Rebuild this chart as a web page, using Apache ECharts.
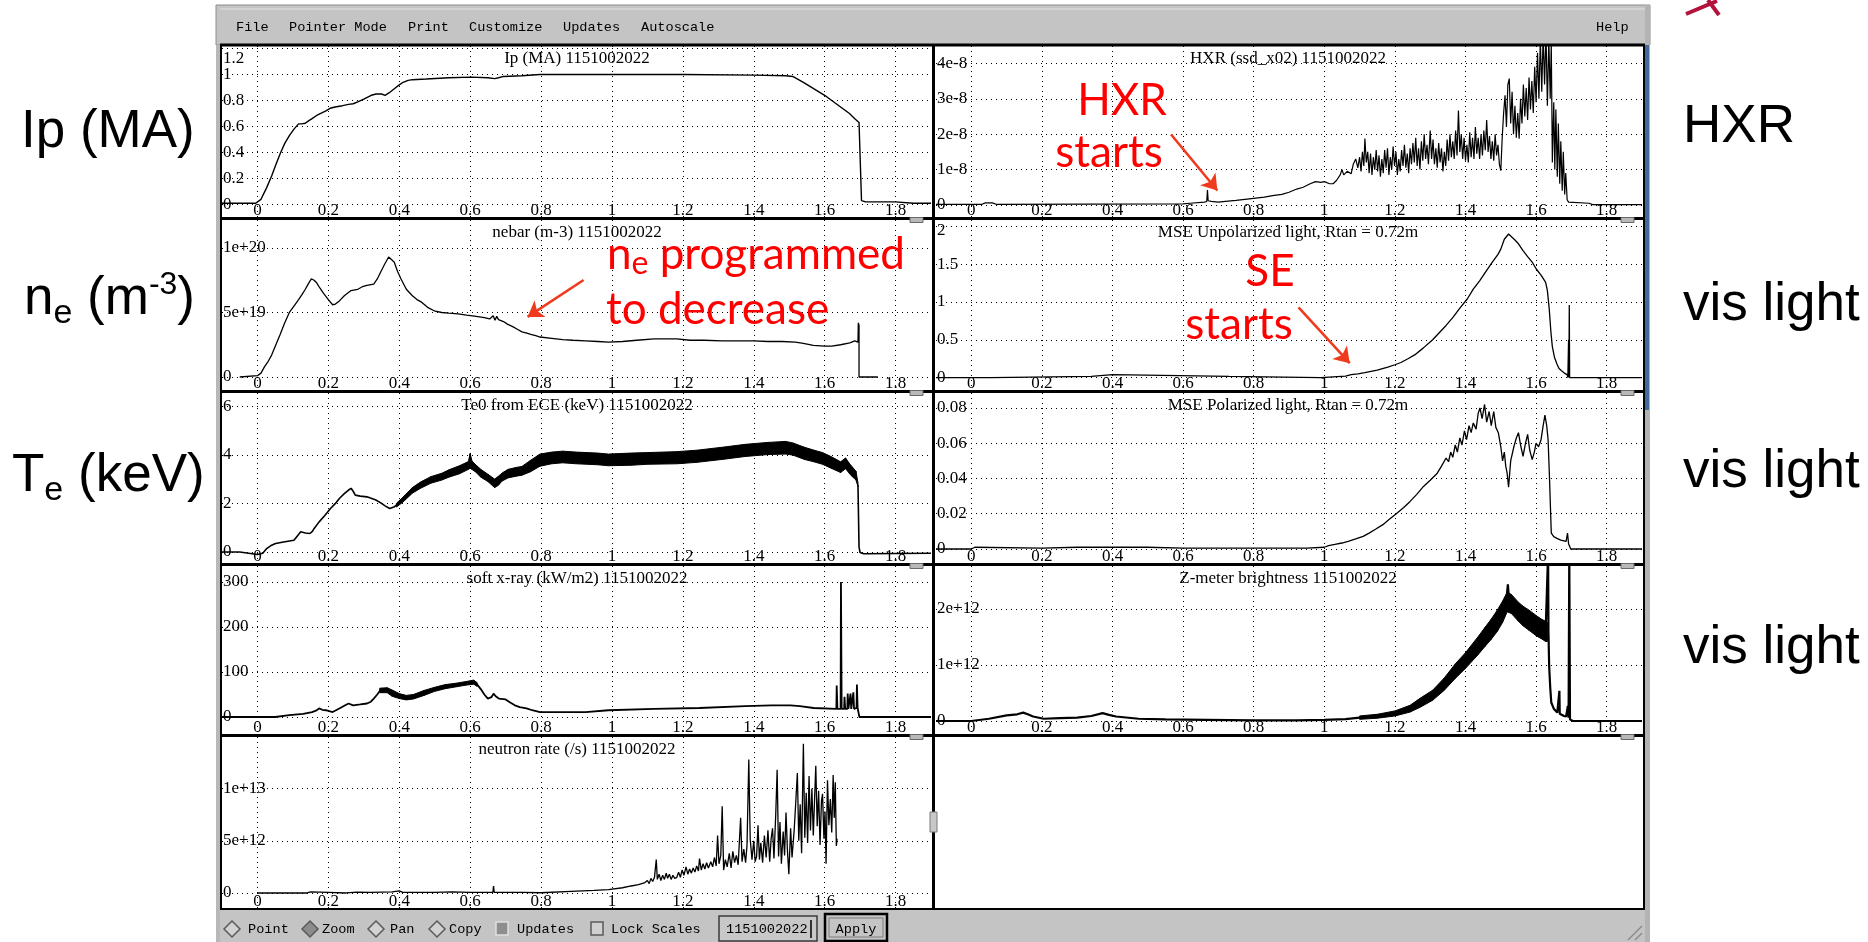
<!DOCTYPE html>
<html lang="en">
<head>
<meta charset="utf-8">
<title>Shot 1151002022</title>
<script src="https://cdn.jsdelivr.net/npm/echarts@6.0.0/dist/echarts.min.js"></script>
<style>
  html, body { margin: 0; padding: 0; background: #fff; overflow: hidden; }
  #chart { width: 1868px; height: 942px; }
</style>
</head>
<body>
<div id="chart"></div>
<script>
// traces, shot 1151002022, time in s

// plasma current, MA
const ipData = [[-0.1,0.01],[-0.005,0.01],[0,0],[0.01,0.04],[0.026,0.13],[0.04,0.22],[0.051,0.3],[0.064,0.39],[0.077,0.47],[0.09,0.53],[0.103,0.58],[0.116,0.62],[0.125,0.62],[0.135,0.625],[0.145,0.645],[0.154,0.66],[0.17,0.69],[0.193,0.72],[0.205,0.74],[0.219,0.75],[0.24,0.76],[0.257,0.77],[0.27,0.775],[0.283,0.79],[0.3,0.81],[0.321,0.84],[0.335,0.85],[0.35,0.85],[0.36,0.84],[0.372,0.86],[0.386,0.89],[0.4,0.92],[0.411,0.94],[0.425,0.955],[0.437,0.96],[0.476,0.965],[0.54,0.975],[0.604,0.98],[0.65,0.975],[0.669,0.968],[0.68,0.975],[0.694,0.985],[0.746,0.99],[0.797,1.0],[1.0,1.0],[1.2,1.0],[1.4,0.995],[1.49,0.99],[1.51,0.985],[1.54,0.94],[1.57,0.89],[1.6,0.84],[1.62,0.8],[1.645,0.75],[1.67,0.7],[1.685,0.66],[1.697,0.63],[1.702,0.645],[1.704,0.03],[1.716,0.02],[1.8,0.02],[1.85,0.01],[1.9,0.01]];

// hard x-ray, units of 1e-8
const hxrData = [[-0.1,0.02],[0.03,0.02],[0.04,0.06],[0.06,0.06],[0.07,0.02],[0.6,0.03],[0.62,0.05],[0.66,0.08],[0.667,0.1],[0.669,0.42],[0.671,0.12],[0.68,0.1],[0.7,0.08],[0.72,0.1],[0.75,0.13],[0.794,0.18],[0.83,0.22],[0.858,0.27],[0.88,0.3],[0.9,0.36],[0.922,0.45],[0.94,0.5],[0.96,0.6],[0.975,0.66],[0.99,0.64],[1.0,0.66],[1.015,0.6],[1.025,0.6],[1.035,0.7],[1.045,0.85],[1.05,1.0],[1.055,0.85],[1.065,0.95],[1.076,0.88],[1.082,1.15],[1.089,1.3],[1.095,1.05],
  [1.1,1.35],[1.104,0.95],[1.108,1.5],[1.112,1.1],[1.115,1.88],[1.119,1.2],[1.123,1.5],[1.127,0.9],[1.131,1.45],[1.135,0.85],[1.139,1.35],[1.143,1.0],[1.147,1.55],[1.151,0.95],[1.155,1.4],[1.159,0.8],[1.163,1.3],[1.167,0.9],[1.171,1.55],[1.175,1.05],[1.179,1.6],[1.183,0.85],[1.187,1.35],[1.191,1.0],[1.195,1.65],[1.199,1.1],[1.203,1.5],[1.207,0.85],[1.211,1.3],[1.215,0.95],[1.219,1.55],[1.223,1.1],[1.227,1.7],[1.231,1.05],[1.235,1.45],[1.239,0.9],[1.243,1.6],[1.247,1.15],[1.251,1.75],[1.255,1.2],[1.259,1.9],[1.263,1.1],[1.267,1.6],[1.271,1.0],[1.275,1.8],[1.279,1.25],[1.283,2.0],[1.287,1.3],[1.291,1.7],[1.295,1.15],[1.3,2.1],[1.304,1.3],[1.308,1.85],[1.312,1.15],[1.316,1.6],[1.32,1.05],[1.324,1.75],[1.328,1.2],[1.332,1.6],[1.336,0.95],[1.34,1.5],[1.344,1.1],[1.348,1.85],[1.352,1.25],[1.356,2.0],[1.36,1.35],[1.364,1.8],[1.368,1.3],[1.372,2.1],[1.376,1.4],[1.38,2.67],[1.384,1.5],[1.388,2.0],[1.392,1.3],[1.396,1.9],[1.4,1.25],[1.404,1.7],[1.408,1.2],[1.412,2.05],[1.416,1.35],[1.42,1.9],[1.424,1.3],[1.428,2.2],[1.432,1.45],[1.436,1.9],[1.44,1.3],[1.444,2.0],[1.448,1.4],[1.452,2.1],[1.456,1.55],[1.46,2.4],[1.464,1.5],[1.468,1.95],[1.472,1.3],[1.476,1.8],[1.48,1.25],[1.484,2.0],[1.488,1.4],[1.492,1.7],[1.496,1.15],[1.5,0.97],[1.504,1.9],[1.508,2.6],[1.512,3.1],[1.516,2.2],[1.52,3.4],[1.524,3.57],[1.528,2.3],[1.532,3.2],[1.536,2.0],[1.54,2.8],[1.544,1.9],[1.548,2.6],[1.552,1.87],[1.556,3.0],[1.56,2.3],[1.564,3.4],[1.568,2.5],[1.572,3.3],[1.576,2.4],[1.58,3.6],[1.584,2.7],[1.588,3.5],[1.592,2.6],[1.596,3.9],[1.6,2.9],[1.604,4.3],[1.608,3.0],[1.612,4.7],[1.616,3.2],[1.62,4.8],[1.624,3.4],[1.628,4.9],[1.632,2.8],[1.636,4.7],[1.64,3.0],[1.643,4.6],[1.646,1.2],[1.65,2.9],[1.653,1.0],[1.656,2.7],[1.66,0.8],[1.663,2.3],[1.667,0.6],[1.67,1.8],[1.674,0.4],[1.677,1.5],[1.681,0.3],[1.684,0.9],[1.688,0.15],[1.692,0.08],[1.75,0.05],[1.76,0.01],[1.9,0.01]];

// line-averaged density, units of 1e19 m-3
const neData = [[-0.05,0],[0,0.1],[0.01,0.3],[0.02,0.8],[0.03,1.2],[0.04,1.7],[0.052,2.5],[0.064,3.3],[0.077,4.2],[0.09,5.0],[0.103,5.5],[0.116,6.0],[0.126,6.4],[0.135,6.8],[0.145,7.3],[0.152,7.6],[0.16,7.5],[0.167,7.3],[0.176,6.9],[0.186,6.5],[0.2,6.0],[0.212,5.6],[0.22,5.65],[0.231,5.9],[0.245,6.3],[0.264,6.7],[0.283,6.8],[0.296,7.0],[0.309,7.1],[0.328,7.2],[0.338,7.6],[0.347,8.1],[0.358,8.7],[0.37,9.3],[0.378,9.1],[0.386,8.9],[0.395,8.2],[0.405,7.6],[0.42,6.8],[0.437,6.3],[0.45,6.0],[0.463,5.8],[0.48,5.4],[0.501,5.1],[0.52,5.0],[0.54,4.95],[0.566,4.9],[0.59,4.8],[0.617,4.7],[0.64,4.6],[0.655,4.5],[0.665,4.75],[0.67,4.4],[0.675,4.7],[0.68,4.45],[0.694,4.3],[0.705,4.1],[0.72,3.9],[0.733,3.7],[0.746,3.5],[0.76,3.4],[0.771,3.3],[0.785,3.2],[0.797,3.1],[0.83,3.0],[0.861,2.9],[0.89,2.85],[0.926,2.8],[0.96,2.75],[0.99,2.7],[1.03,2.75],[1.07,2.85],[1.119,2.95],[1.15,2.95],[1.183,2.95],[1.22,2.85],[1.26,2.85],[1.311,2.8],[1.36,2.8],[1.4,2.8],[1.44,2.75],[1.48,2.75],[1.517,2.7],[1.54,2.6],[1.568,2.45],[1.6,2.4],[1.62,2.4],[1.645,2.5],[1.671,2.65],[1.685,2.8],[1.69,2.9],[1.694,2.7],[1.695,4.2],[1.697,4.0],[1.697,0],[1.75,0]];

// MSE unpolarized light
const mseUnpolData = [[-0.1,0],[0.055,0],[0.058,0.015],[0.34,0.015],[0.345,0.04],[0.4,0.04],[0.405,0.015],[0.73,0.015],[0.735,0],[0.99,0],[0.995,0.015],[1.06,0.02],[1.076,0.04],[1.095,0.05],[1.115,0.065],[1.15,0.1],[1.18,0.14],[1.2,0.17],[1.217,0.2],[1.237,0.25],[1.256,0.3],[1.28,0.39],[1.307,0.5],[1.325,0.59],[1.345,0.69],[1.365,0.8],[1.384,0.92],[1.405,1.04],[1.422,1.17],[1.44,1.28],[1.46,1.42],[1.475,1.52],[1.492,1.63],[1.5,1.7],[1.51,1.83],[1.522,1.9],[1.531,1.86],[1.54,1.82],[1.55,1.77],[1.563,1.68],[1.576,1.6],[1.59,1.52],[1.6,1.44],[1.615,1.35],[1.627,1.26],[1.632,1.15],[1.637,0.92],[1.642,0.6],[1.646,0.41],[1.652,0.27],[1.659,0.18],[1.665,0.12],[1.672,0.09],[1.68,0.06],[1.688,0.04],[1.69,0],[1.692,0.5],[1.693,0],[1.694,0.96],[1.695,0],[1.9,0]];

// central Te from ECE, keV: thin rise, noisy band (lower/upper edge), tail
const teRise = [[-0.1,0],[-0.05,0],[-0.045,-0.08],[0,-0.1],[0.015,-0.05],[0.026,0.14],[0.04,0.28],[0.051,0.35],[0.07,0.4],[0.09,0.45],[0.103,0.48],[0.112,0.65],[0.122,0.83],[0.135,0.78],[0.148,0.76],[0.155,0.85],[0.16,0.97],[0.174,1.24],[0.19,1.5],[0.206,1.79],[0.22,2.0],[0.231,2.2],[0.245,2.4],[0.257,2.55],[0.264,2.62],[0.27,2.5],[0.276,2.34],[0.29,2.3],[0.309,2.27],[0.334,2.14],[0.35,2.0],[0.36,1.9],[0.373,1.79],[0.385,1.85],[0.392,1.93]];
const teBandT    = [0.392,0.41,0.437,0.46,0.489,0.52,0.54,0.57,0.595,0.6,0.605,0.615,0.63,0.65,0.669,0.68,0.69,0.707,0.73,0.746,0.77,0.797,0.83,0.861,0.9,0.96,0.99,1.054,1.1,1.183,1.24,1.311,1.376,1.44,1.49,1.51,1.543,1.57,1.594,1.615,1.633,1.645,1.659,1.67,1.678,1.688,1.694];
const teBandLow  = [1.85,2.05,2.42,2.62,2.83,2.96,3.08,3.22,3.4,3.45,3.4,3.3,3.08,2.9,2.65,2.75,2.92,3.05,3.12,3.16,3.3,3.53,3.63,3.67,3.63,3.59,3.55,3.57,3.61,3.63,3.69,3.81,3.93,4.01,4.03,3.99,3.81,3.71,3.61,3.47,3.35,3.27,3.43,3.23,3.1,2.97,2.7];
const teBandHigh = [2.0,2.25,2.65,2.88,3.1,3.24,3.38,3.55,3.72,4.05,3.75,3.6,3.4,3.2,3.0,3.12,3.25,3.4,3.48,3.52,3.77,4.03,4.11,4.15,4.11,4.07,4.03,4.07,4.09,4.13,4.19,4.31,4.43,4.51,4.55,4.49,4.31,4.19,4.09,3.95,3.81,3.71,3.87,3.64,3.5,3.33,2.85];
const teTail = [[1.694,2.76],[1.697,0.2],[1.7,-0.02],[1.71,-0.07],[1.9,-0.05]];

// MSE polarized light
const msePolData = [[-0.1,0],[0,0],[0.01,0.001],[0.2,0.0005],[0.3,0.001],[0.5,0.001],[0.6,0.0005],[0.8,0.0005],[0.95,0.0005],[1.0,0.001],[1.012,0.0019],[1.03,0.0026],[1.05,0.0034],[1.07,0.0045],[1.089,0.0057],[1.11,0.0072],[1.127,0.009],[1.145,0.0112],[1.166,0.0138],[1.185,0.017],[1.204,0.02],[1.225,0.0235],[1.243,0.027],[1.262,0.031],[1.281,0.0355],[1.3,0.039],[1.32,0.043],[1.332,0.047],[1.345,0.0516],[1.352,0.0495],[1.358,0.055],[1.364,0.052],[1.371,0.059],[1.377,0.055],[1.384,0.063],[1.39,0.059],[1.397,0.067],[1.403,0.062],[1.41,0.07],[1.416,0.066],[1.422,0.0715],[1.43,0.068],[1.436,0.077],[1.441,0.08],[1.447,0.074],[1.454,0.082],[1.46,0.072],[1.467,0.078],[1.473,0.07],[1.48,0.078],[1.486,0.069],[1.493,0.066],[1.5,0.058],[1.505,0.05],[1.51,0.055],[1.514,0.047],[1.518,0.043],[1.522,0.035],[1.528,0.05],[1.537,0.058],[1.544,0.063],[1.55,0.066],[1.556,0.059],[1.563,0.0526],[1.57,0.06],[1.576,0.065],[1.582,0.056],[1.589,0.0507],[1.595,0.055],[1.6,0.06],[1.607,0.058],[1.614,0.062],[1.62,0.07],[1.625,0.076],[1.63,0.07],[1.634,0.062],[1.638,0.04],[1.643,0.009],[1.65,0.007],[1.659,0.006],[1.67,0.005],[1.685,0.0043],[1.689,0.009],[1.692,0.003],[1.698,0],[1.9,0]];

// soft x-ray, kW/m2: trace plus the thick stretch around 0.35-0.62 s
const sxrData = [[-0.1,0],[0.05,0],[0.051,2],[0.09,4],[0.129,7],[0.154,11],[0.165,14],[0.174,19],[0.183,16],[0.193,15],[0.212,11],[0.231,19],[0.245,25],[0.257,30],[0.27,26],[0.29,28],[0.309,30],[0.32,34],[0.328,41],[0.338,50],[0.347,60],[0.366,60],[0.376,55],[0.386,52],[0.4,46],[0.411,45],[0.437,42],[0.455,48],[0.476,56],[0.495,61],[0.514,65],[0.535,69],[0.553,71],[0.575,73],[0.591,75],[0.61,78],[0.62,72],[0.63,62],[0.64,50],[0.65,41],[0.66,44],[0.666,52],[0.672,46],[0.681,41],[0.7,39],[0.713,32],[0.726,26],[0.74,22],[0.759,19],[0.775,15],[0.797,11],[0.926,11],[0.99,15],[1.119,18],[1.247,20],[1.376,24],[1.45,26],[1.504,26],[1.53,24],[1.569,20],[1.633,18],[1.634,70],[1.636,18],[1.645,18],[1.646,300],[1.648,18],[1.655,18],[1.656,45],[1.658,18],[1.664,18],[1.665,52],[1.667,18],[1.672,18],[1.673,52],[1.675,18],[1.68,18],[1.681,55],[1.683,18],[1.69,20],[1.691,72],[1.693,20],[1.697,19],[1.698,0],[1.9,0]];
const sxrBandT    = [0.345,0.366,0.38,0.4,0.42,0.44,0.47,0.5,0.53,0.56,0.59,0.61,0.62];
const sxrBandLow  = [54,54,46,41,38,40,48,57,63,67,71,73,68];
const sxrBandHigh = [64,65,60,52,48,50,59,66,72,75,79,82,76];

// Z-meter brightness, units of 1e12: trace plus noisy band edges
const zData = [[-0.1,0],[0,0],[0.05,0.04],[0.1,0.1],[0.13,0.12],[0.147,0.15],[0.16,0.12],[0.175,0.08],[0.205,0.04],[0.25,0.05],[0.3,0.06],[0.34,0.09],[0.372,0.14],[0.39,0.11],[0.41,0.08],[0.474,0.04],[0.55,0.03],[0.666,0.02],[0.8,0.01],[0.92,0.01],[1.0,0.02],[1.06,0.035],[1.1,0.06],[1.15,0.085],[1.2,0.135],[1.243,0.22],[1.27,0.32],[1.307,0.46],[1.34,0.66],[1.371,0.89],[1.4,1.08],[1.435,1.34],[1.455,1.5],[1.473,1.64],[1.49,1.79],[1.505,1.95],[1.515,2.1],[1.52,2.44],[1.524,2.12],[1.53,2.09],[1.55,1.95],[1.563,1.88],[1.58,1.8],[1.601,1.7],[1.615,1.65],[1.627,1.6],[1.632,1.59],[1.634,3.0],[1.635,1.6],[1.637,0.98],[1.64,0.6],[1.643,0.33],[1.65,0.22],[1.66,0.15],[1.665,0.14],[1.666,0.54],[1.667,0.13],[1.679,0.09],[1.685,0.08],[1.69,0.27],[1.692,0.06],[1.694,3.0],[1.696,0.03],[1.704,0],[1.9,0]];
const zBandT    = [1.1,1.15,1.2,1.243,1.27,1.307,1.34,1.371,1.4,1.435,1.455,1.473,1.49,1.505,1.518,1.53,1.55,1.563,1.58,1.601,1.615,1.627,1.632];
const zBandLow  = [0.03,0.05,0.09,0.16,0.24,0.37,0.55,0.76,0.94,1.18,1.33,1.46,1.6,1.76,1.95,1.92,1.78,1.7,1.62,1.52,1.47,1.42,1.42];
const zBandHigh = [0.09,0.12,0.18,0.28,0.4,0.55,0.77,1.02,1.22,1.5,1.67,1.82,1.98,2.14,2.3,2.26,2.12,2.05,1.98,1.88,1.82,1.78,1.76];

// neutron rate, units of 1e12 /s
const neutronData = [[0,0],[0.14,0],[0.15,0.1],[0.2,0.05],[0.25,0],[0.28,0.08],[0.32,0.05],[0.38,0.1],[0.4,0.2],[0.41,0.05],[0.5,0.05],[0.55,0.1],[0.6,0.05],[0.664,0.05],[0.666,0.67],[0.668,0.05],[0.75,0.05],[0.8,0.02],[0.9,0.17],[0.95,0.25],[0.99,0.33],[1.03,0.5],[1.054,0.67],[1.075,0.8],[1.093,1.0],[1.1,1.2],[1.105,0.9],[1.11,1.4],[1.115,1.1],[1.12,1.5],[1.125,3.2],[1.128,1.3],[1.133,1.8],[1.138,1.2],[1.143,1.7],[1.148,1.3],[1.153,1.9],[1.157,1.4],[1.162,1.8],[1.167,1.3],[1.172,1.7],[1.177,1.4],[1.183,1.5],[1.188,2.0],[1.193,1.5],[1.198,2.2],[1.203,1.7],[1.209,2.5],[1.214,1.8],[1.219,2.3],[1.224,1.9],[1.229,2.4],[1.234,2.0],[1.239,2.6],[1.244,2.1],[1.247,3.3],[1.252,2.2],[1.257,2.8],[1.262,2.3],[1.267,2.9],[1.272,2.4],[1.279,3.0],[1.284,2.5],[1.289,3.4],[1.294,2.6],[1.298,5.5],[1.302,2.8],[1.307,3.6],[1.311,8.3],[1.315,2.2],[1.32,3.2],[1.325,2.5],[1.331,3.8],[1.336,2.4],[1.341,4.0],[1.346,2.9],[1.351,3.6],[1.356,2.7],[1.363,7.2],[1.367,3.0],[1.372,4.2],[1.377,2.9],[1.381,4.6],[1.386,12.8],[1.39,5.2],[1.395,3.2],[1.4,5.0],[1.404,3.0],[1.408,3.5],[1.412,6.5],[1.416,3.2],[1.42,4.8],[1.425,2.9],[1.43,5.5],[1.435,3.4],[1.44,6.0],[1.445,3.0],[1.449,5.2],[1.453,6.2],[1.457,3.3],[1.462,7.5],[1.466,11.8],[1.47,3.5],[1.474,6.8],[1.478,2.8],[1.483,5.9],[1.487,3.6],[1.491,7.7],[1.495,4.1],[1.499,1.8],[1.504,6.2],[1.508,3.4],[1.514,6.0],[1.519,9.0],[1.523,11.5],[1.527,5.0],[1.531,8.5],[1.535,3.8],[1.54,14.3],[1.544,5.3],[1.548,9.6],[1.552,4.8],[1.556,11.2],[1.56,6.0],[1.564,10.0],[1.568,5.5],[1.572,9.4],[1.575,12.2],[1.579,6.4],[1.583,9.8],[1.587,4.6],[1.591,8.8],[1.594,9.5],[1.598,5.2],[1.601,7.8],[1.604,2.8],[1.608,10.8],[1.612,6.5],[1.616,9.0],[1.62,5.8],[1.624,11.3],[1.627,7.2],[1.63,10.6],[1.633,4.5],[1.635,5.2]];

// annotation arrows, [from, to] in each panel's own units
const hxrArrow = [[0.566, 1.99], [0.697, 0.41]];
const neArrow = [[0.92, 7.52], [0.762, 4.66]];
const seArrow = [[0.927, 0.93], [1.072, 0.19]];

const SERIF = 'Liberation Serif';
const MONO = 'Liberation Mono';
const SANS = 'Liberation Sans';

const cols = [{ left: 222, width: 709, mid: 577 }, { left: 936, width: 706, mid: 1288 }];

// one entry per scope panel
const panels = [
  { col: 0, top: 46, bottom: 217, title: 'Ip (MA) 1151002022', yMin: -0.096, yMax: 1.219, step: 0.2, lift: [1.2, 10] },
  { col: 1, top: 46, bottom: 217, title: 'HXR (ssd_x02) 1151002022', yMin: -0.339, yMax: 4.49, step: 1, scale: 1e-8 },
  { col: 0, top: 220, bottom: 390, title: 'nebar (m-3) 1151002022', yMin: -1.008, yMax: 12.17, step: 5, scale: 1e19 },
  { col: 1, top: 220, bottom: 390, title: 'MSE Unpolarized light, Rtan = 0.72m', yMin: -0.164, yMax: 2.085, step: 0.5, lift: [2, 4] },
  { col: 0, top: 393, bottom: 563, title: 'Te0 from ECE (keV) 1151002022', yMin: -0.453, yMax: 6.543, step: 2 },
  { col: 1, top: 393, bottom: 563, title: 'MSE Polarized light, Rtan = 0.72m', yMin: -0.00794, yMax: 0.0885, step: 0.02 },
  { col: 0, top: 566, bottom: 734, title: 'soft x-ray (kW/m2) 1151002022', yMin: -37.8, yMax: 335.6, step: 100 },
  { col: 1, top: 566, bottom: 734, title: 'Z-meter brightness 1151002022', yMin: -0.232, yMax: 2.768, step: 1, scale: 1e12 },
  { col: 0, top: 737, bottom: 908, title: 'neutron rate (/s) 1151002022', yMin: -1.44, yMax: 14.95, step: 5, scale: 1e12 }
];

const dots = { color: '#000', width: 1, type: [1, 4] };
const tickFont = { fontFamily: SERIF, fontSize: 17, color: '#000' };

function yFormatter(p) {
  return function (v) {
    let s = String(v);
    if (p.scale) s = v === 0 ? '0' : Number((v * p.scale).toPrecision(3)).toExponential();
    if (p.lift && Math.abs(v - p.lift[0]) < 1e-9) return '{low|' + s + '}';
    return s;
  };
}

const grid = [], xAxis = [], yAxis = [];
panels.forEach((p, i) => {
  const c = cols[p.col];
  grid.push({ left: c.left, width: c.width, top: p.top, height: p.bottom - p.top, outerBoundsMode: 'none', show: false });
  xAxis.push({
    type: 'value', gridIndex: i, min: -0.1, max: 1.9, minInterval: 0.2, maxInterval: 0.2,
    axisLine: { show: false }, axisTick: { show: false },
    axisLabel: Object.assign({ inside: true, margin: -2, showMinLabel: false, showMaxLabel: false }, tickFont),
    splitLine: { show: true, showMinLine: false, showMaxLine: false, lineStyle: dots }
  });
  yAxis.push({
    type: 'value', gridIndex: i, min: p.yMin, max: p.yMax, minInterval: p.step, maxInterval: p.step,
    axisLine: { show: false }, axisTick: { show: false },
    axisLabel: Object.assign({
      inside: true, margin: 1, align: 'left', verticalAlign: 'middle', showMinLabel: false, showMaxLabel: false,
      formatter: yFormatter(p),
      rich: { low: Object.assign({ padding: [p.lift ? 2 * p.lift[1] : 0, 0, 0, 0] }, tickFont) }
    }, tickFont),
    splitLine: { show: true, showMinLine: false, showMaxLine: false, lineStyle: dots }
  });
});

function line(gi, data, width, extra) {
  return Object.assign({
    type: 'line', xAxisIndex: gi, yAxisIndex: gi, data: data, symbol: 'none', showSymbol: false,
    lineStyle: { color: '#000', width: width }, silent: true, animation: false, z: 3
  }, extra || {});
}
// filled strip between a lower and an upper edge, one quad per sample step
function band(gi, ts, lo, hi) {
  return {
    type: 'custom', xAxisIndex: gi, yAxisIndex: gi, silent: true, animation: false, z: 3, clip: true,
    data: ts.slice(0, -1).map((t, k) => [t, lo[k], hi[k], ts[k + 1], lo[k + 1], hi[k + 1]]),
    encode: { x: [0, 3], y: [1, 2, 4, 5] },
    renderItem: function (params, api) {
      const pts = [
        api.coord([api.value(0), api.value(1)]), api.coord([api.value(3), api.value(4)]),
        api.coord([api.value(3), api.value(5)]), api.coord([api.value(0), api.value(2)])
      ];
      return { type: 'polygon', shape: { points: pts }, style: { fill: '#000', stroke: '#000', lineWidth: 1 } };
    }
  };
}
function arrow(pts) {
  return {
    silent: true, animation: false, symbol: ['none', 'arrow'], symbolSize: 15,
    label: { show: false },
    lineStyle: { color: '#f03a1e', width: 2.6, type: 'solid' },
    data: [[{ coord: pts[0] }, { coord: pts[1] }]]
  };
}

const series = [
  line(0, ipData, 1.4),
  line(1, hxrData, 1.2, { markLine: arrow(hxrArrow) }),
  line(2, neData, 1.3, { markLine: arrow(neArrow) }),
  line(3, mseUnpolData, 1.3, { markLine: arrow(seArrow) }),
  line(4, teRise, 1.6),
  band(4, teBandT, teBandLow, teBandHigh),
  line(4, teTail, 1.6),
  line(5, msePolData, 1.3),
  line(6, sxrData, 1.8),
  band(6, sxrBandT, sxrBandLow, sxrBandHigh),
  line(7, zData, 2.2),
  band(7, zBandT, zBandLow, zBandHigh),
  line(8, neutronData, 1.3)
];

// window chrome, labels and annotations
function txt(x, y, text, o) {
  return { type: 'text', x: x, y: y, z: 70, silent: true,
    style: Object.assign({ text: text, fill: '#000', fontFamily: SERIF, fontSize: 17, align: 'center', verticalAlign: 'middle' }, o || {}) };
}
function rect(x, y, w, h, fill, stroke, lw, z) {
  return { type: 'rect', z: z || 50, silent: true, shape: { x: x, y: y, width: w, height: h },
    style: { fill: fill, stroke: stroke || null, lineWidth: lw || 1 } };
}
function seg(x1, y1, x2, y2, color, w, z) {
  return { type: 'line', z: z || 60, silent: true, shape: { x1: x1, y1: y1, x2: x2, y2: y2 }, style: { stroke: color, lineWidth: w } };
}
function diamond(cx, cy, fill) {
  return { type: 'polygon', z: 60, silent: true, shape: { points: [[cx, cy - 8], [cx + 8, cy], [cx, cy + 8], [cx - 8, cy]] },
    style: { fill: fill, stroke: '#5a5a5a', lineWidth: 1.5 } };
}

const graphics = [];
// frame, menu bar and bottom bar
graphics.push(rect(216, 5, 1434, 40, '#c4c4c4', '#8c8c8c', 1, 40));
graphics.push(rect(216, 45, 5, 897, '#b8b8b8', null, 1, 40));
graphics.push(rect(1645, 5, 5, 937, '#b3b3b3', null, 1, 40));
graphics.push(rect(1645, 45, 4, 365, '#44699b', null, 1, 41));
graphics.push(rect(220, 909, 1425, 33, '#c4c4c4', null, 1, 40));
graphics.push(seg(220, 9, 1645, 9, '#e2e2e2', 1, 41));

const menuFont = { fontFamily: MONO, fontSize: 13.6, align: 'left' };
[['File', 236], ['Pointer Mode', 289], ['Print', 408], ['Customize', 469], ['Updates', 563], ['Autoscale', 641], ['Help', 1596]]
  .forEach(m => graphics.push(txt(m[1], 27, m[0], menuFont)));

// panel borders
[45, 218.5, 391.5, 564.5, 735.5].forEach(y => graphics.push(seg(220, y, 1645, y, '#000', 3)));
graphics.push(seg(220, 909, 1645, 909, '#000', 2));
graphics.push(seg(221, 45, 221, 909, '#000', 2));
graphics.push(seg(933.5, 45, 933.5, 909, '#000', 3));
graphics.push(seg(1644, 45, 1644, 909, '#000', 2));
// sash grips
[218.5, 391.5, 564.5, 735.5].forEach(y => {
  graphics.push(rect(910, y - 1, 13, 5, '#b8b8b8', '#6a6a6a', 1, 65));
  graphics.push(rect(1621, y - 1, 13, 5, '#b8b8b8', '#6a6a6a', 1, 65));
});
graphics.push(rect(930, 812, 7, 20, '#c8c8c8', '#7a7a7a', 1, 65));

// panel titles
panels.forEach(p => graphics.push(txt(cols[p.col].mid, p.top + 13, p.title)));

// bottom control bar
const barFont = { fontFamily: MONO, fontSize: 13.6, align: 'left' };
graphics.push(diamond(232, 929, '#d2d2d2'));
graphics.push(txt(248, 929, 'Point', barFont));
graphics.push(diamond(310, 929, '#8c8c8c'));
graphics.push(txt(322, 929, 'Zoom', barFont));
graphics.push(diamond(376, 929, '#d2d2d2'));
graphics.push(txt(390, 929, 'Pan', barFont));
graphics.push(diamond(437, 929, '#d2d2d2'));
graphics.push(txt(449, 929, 'Copy', barFont));
graphics.push(rect(496, 922, 12, 13, '#8e8e8e', '#e0e0e0', 1.5, 60));
graphics.push(txt(517, 929, 'Updates', barFont));
graphics.push(rect(591, 922, 12, 13, '#d0d0d0', '#5a5a5a', 1.5, 60));
graphics.push(txt(611, 929, 'Lock Scales', barFont));
graphics.push(rect(719, 916, 98, 25, '#c8c8c8', '#3a3a3a', 1.5, 60));
graphics.push(txt(726, 929, '1151002022', barFont));
graphics.push(seg(811, 920, 811, 938, '#000', 1.5, 70));
graphics.push(rect(825, 914, 62, 27, '#c4c4c4', '#000', 2.5, 60));
graphics.push(rect(829, 918, 54, 19, '#c4c4c4', '#7d7d7d', 1, 61));
graphics.push(txt(856, 929, 'Apply', Object.assign({}, barFont, { align: 'center' })));
graphics.push(seg(1628, 940, 1642, 926, '#8a8a8a', 1.5, 60));
graphics.push(seg(1635, 940, 1642, 933, '#8a8a8a', 1.5, 60));

// side labels
const big = { fontFamily: SANS, fontSize: 53, align: 'left' };
const bigRich = {
  m: { fontFamily: SANS, fontSize: 53, fill: '#000', verticalAlign: 'middle' },
  s: { fontFamily: SANS, fontSize: 34, fill: '#000', verticalAlign: 'middle', padding: [29, 0, 0, 0] },
  p: { fontFamily: SANS, fontSize: 32, fill: '#000', verticalAlign: 'middle', padding: [0, 0, 27, 0] }
};
graphics.push(txt(21, 132, 'Ip (MA)', big));
graphics.push(txt(24, 299, '{m|n}{s|e}{m| (m}{p|-3}{m|)}', Object.assign({ rich: bigRich }, big)));
graphics.push(txt(12, 476, '{m|T}{s|e}{m| (keV)}', Object.assign({ rich: bigRich }, big)));
graphics.push(txt(1683, 127, 'HXR', big));
[305, 472, 648].forEach(y => graphics.push(txt(1683, y, 'vis light', big)));

// red annotations
const red = { fontFamily: 'Lato', fontSize: 44, fill: '#ff0000' };
const redRich = {
  m: { fontFamily: 'Lato', fontSize: 44, fill: '#ff0000', verticalAlign: 'middle' },
  s: { fontFamily: 'Lato', fontSize: 32, fill: '#ff0000', verticalAlign: 'middle', padding: [18, 0, 0, 0] }
};
graphics.push(txt(1122, 101, 'HXR', red));
graphics.push(txt(1109, 153, 'starts', red));
graphics.push(txt(607, 255, '{m|n}{s|e}{m| programmed}', Object.assign({ rich: redRich, align: 'left' }, red)));
graphics.push(txt(606, 310, 'to decrease', Object.assign({ align: 'left' }, red)));
graphics.push(txt(1270, 272, 'SE', red));
graphics.push(txt(1239, 325, 'starts', red));
// cropped glyph at the top edge
graphics.push(seg(1686, 14, 1717, 1, '#b3123d', 4, 70));
graphics.push(seg(1708, 0, 1719, 15, '#b3123d', 4, 70));

const chart = echarts.init(document.getElementById('chart'), null, { renderer: 'canvas' });
chart.setOption({
  animation: false,
  backgroundColor: '#fff',
  grid: grid,
  xAxis: xAxis,
  yAxis: yAxis,
  series: series,
  graphic: { elements: graphics }
});
</script>
</body>
</html>
